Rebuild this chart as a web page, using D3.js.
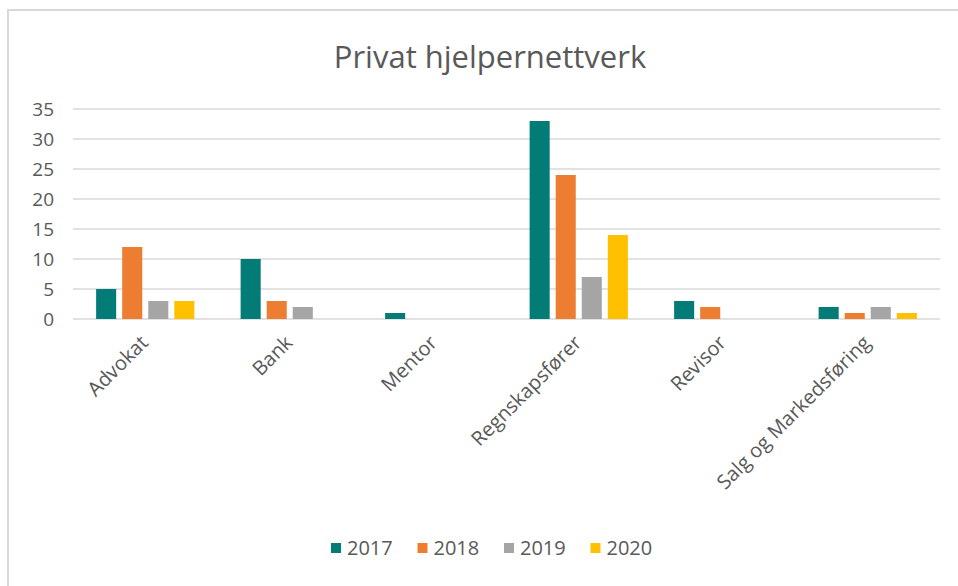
<!DOCTYPE html>
<html>
<head>
<meta charset="utf-8">
<script src="https://cdn.jsdelivr.net/npm/d3@7"></script>
<style>
  body { margin: 0; background: #fff; }
  text { font-family: "Open Sans", "DejaVu Sans", sans-serif; fill: #595959; }
</style>
</head>
<body>
<div class="chart"></div>
<script>
// Data
var categories = ["Advokat", "Bank", "Mentor", "Regnskapsfører", "Revisor", "Salg og Markedsføring"];
var years = ["2017", "2018", "2019", "2020"];
var v2017 = [5, 10, 1, 33, 3, 2];
var v2018 = [12, 3, 0, 24, 2, 1];
var v2019 = [3, 2, 0, 7, 0, 2];
var v2020 = [3, 0, 0, 14, 0, 1];
var yTicks = [0, 5, 10, 15, 20, 25, 30, 35];

var series = [v2017, v2018, v2019, v2020];
var colors = ["#037b77", "#ed7d31", "#a5a5a5", "#ffc000"];

var width = 958,
    height = 586;

var svg = d3.select(".chart")
    .append("svg")
    .attr("width", width)
    .attr("height", height)

// chart frame
svg.append("rect")
    .attr("x", 8).attr("y", 10)
    .attr("width", width).attr("height", height)
    .attr("fill", "none")
    .attr("stroke", "#d9d9d9")
    .attr("stroke-width", 2)

// Scales
var x0 = d3.scaleBand()
    .domain(categories)
    .range([73, 940])
    .paddingInner(0.32)
    .paddingOuter(0.16);

var x1 = d3.scaleBand()
    .domain(years)
    .range([0, x0.bandwidth()])
    .paddingInner(0.23);

var yScale = d3.scaleLinear()
    .domain([0, 35])
    .range([319, 109]);

// Gridlines
svg.append("g")
    .selectAll("line")
    .data(yTicks)
    .enter()
    .append("line")
    .attr("x1", 73)
    .attr("x2", 940)
    .attr("y1", (d) => { return yScale(d); })
    .attr("y2", (d) => { return yScale(d); })
    .attr("stroke", "#d9d9d9")
    .attr("stroke-width", 1.5)

// Y axis labels
var yAxis = svg.append("g")
    .attr("transform", "translate(54,0)")
    .call(d3.axisLeft(yScale).tickValues(yTicks).tickSize(0).tickPadding(0))
yAxis.select(".domain").remove()
yAxis.selectAll("text")
    .attr("font-size", 19)
    .attr("fill", "#595959")
    .style("font-family", "'Open Sans', sans-serif")

// Bars
var groups = svg.append("g")
    .selectAll("g")
    .data(categories)
    .enter()
    .append("g")
    .attr("transform", (d) => { return "translate(" + x0(d) + ",0)"; })

groups.selectAll("rect")
    .data((d, i) => { return years.map((y, j) => { return { year: y, value: series[j][i], color: colors[j] }; }); })
    .enter()
    .filter((d) => { return d.value > 0; })
    .append("rect")
    .attr("x", (d) => { return x1(d.year); })
    .attr("width", x1.bandwidth())
    .attr("y", (d) => { return yScale(d.value); })
    .attr("height", (d) => { return yScale(0) - yScale(d.value); })
    .attr("fill", (d) => { return d.color; })

// X axis labels, rotated
svg.append("g")
    .selectAll("text")
    .data(categories)
    .enter()
    .append("text")
    .text((d) => { return d; })
    .attr("text-anchor", "end")
    .attr("font-size", 20)
    .attr("transform", (d) => {
        var cx = x0(d) + x0.bandwidth() / 2 + 4;
        return "translate(" + cx + ",344) rotate(-45)";
    })

// Title
svg.append("text")
    .text("Privat hjelpernettverk")
    .attr("x", 490)
    .attr("y", 68)
    .attr("text-anchor", "middle")
    .attr("font-size", 31)

// Legend
var legend = svg.append("g")
    .selectAll("g")
    .data(years)
    .enter()
    .append("g")
    .attr("transform", (d, i) => { return "translate(" + (331 + i * 86.5) + ",543)"; })

legend.append("rect")
    .attr("width", 10)
    .attr("height", 10)
    .attr("fill", (d, i) => { return colors[i]; })

legend.append("text")
    .text((d) => { return d; })
    .attr("x", 16)
    .attr("y", 5)
    .attr("dy", "0.35em")
    .attr("font-size", 20)
</script>
</body>
</html>
